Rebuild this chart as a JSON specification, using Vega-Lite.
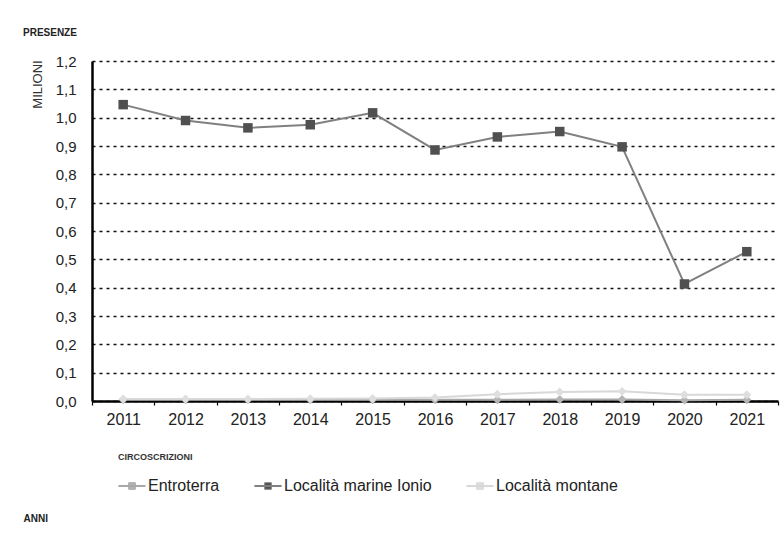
{
  "$schema": "https://vega.github.io/schema/vega-lite/v6.json",
  "autosize": "none",
  "width": 686,
  "height": 340,
  "padding": {"left": 92, "top": 61, "right": 6, "bottom": 137},
  "background": "white",
  "title": {
    "text": "PRESENZE",
    "anchor": "start",
    "frame": "bounds",
    "fontSize": 10,
    "fontWeight": "bold",
    "font": "Liberation Sans",
    "color": "#222",
    "offset": 16
  },
  "config": {
    "view": {"stroke": null},
    "font": "Liberation Sans"
  },
  "data": {
    "values": [
      {"anno": "2011", "circ": "Entroterra", "presenze": 0.004},
      {"anno": "2012", "circ": "Entroterra", "presenze": 0.004},
      {"anno": "2013", "circ": "Entroterra", "presenze": 0.004},
      {"anno": "2014", "circ": "Entroterra", "presenze": 0.004},
      {"anno": "2015", "circ": "Entroterra", "presenze": 0.004},
      {"anno": "2016", "circ": "Entroterra", "presenze": 0.004},
      {"anno": "2017", "circ": "Entroterra", "presenze": 0.004},
      {"anno": "2018", "circ": "Entroterra", "presenze": 0.005},
      {"anno": "2019", "circ": "Entroterra", "presenze": 0.005},
      {"anno": "2020", "circ": "Entroterra", "presenze": 0.003},
      {"anno": "2021", "circ": "Entroterra", "presenze": 0.004},
      {"anno": "2011", "circ": "Località marine Ionio", "presenze": 1.046},
      {"anno": "2012", "circ": "Località marine Ionio", "presenze": 0.99},
      {"anno": "2013", "circ": "Località marine Ionio", "presenze": 0.964},
      {"anno": "2014", "circ": "Località marine Ionio", "presenze": 0.975},
      {"anno": "2015", "circ": "Località marine Ionio", "presenze": 1.017},
      {"anno": "2016", "circ": "Località marine Ionio", "presenze": 0.886},
      {"anno": "2017", "circ": "Località marine Ionio", "presenze": 0.932},
      {"anno": "2018", "circ": "Località marine Ionio", "presenze": 0.951},
      {"anno": "2019", "circ": "Località marine Ionio", "presenze": 0.897},
      {"anno": "2020", "circ": "Località marine Ionio", "presenze": 0.413},
      {"anno": "2021", "circ": "Località marine Ionio", "presenze": 0.527},
      {"anno": "2011", "circ": "Località montane", "presenze": 0.007},
      {"anno": "2012", "circ": "Località montane", "presenze": 0.007},
      {"anno": "2013", "circ": "Località montane", "presenze": 0.007},
      {"anno": "2014", "circ": "Località montane", "presenze": 0.008},
      {"anno": "2015", "circ": "Località montane", "presenze": 0.009},
      {"anno": "2016", "circ": "Località montane", "presenze": 0.012},
      {"anno": "2017", "circ": "Località montane", "presenze": 0.024},
      {"anno": "2018", "circ": "Località montane", "presenze": 0.032},
      {"anno": "2019", "circ": "Località montane", "presenze": 0.034},
      {"anno": "2020", "circ": "Località montane", "presenze": 0.022},
      {"anno": "2021", "circ": "Località montane", "presenze": 0.022}
    ]
  },
  "encoding": {
    "x": {
      "field": "anno",
      "type": "ordinal",
      "scale": {"type": "band", "paddingInner": 0, "paddingOuter": 0},
      "axis": {
        "title": "ANNI",
        "titleX": -69,
        "titleY": 112,
        "titleAlign": "left",
        "titleBaseline": "top",
        "titleFontSize": 10,
        "titleFontWeight": "bold",
        "titleColor": "#222",
        "labelAngle": 0,
        "labelFontSize": 16,
        "labelColor": "#222",
        "labelPadding": 6,
        "tickBand": "extent",
        "tickSize": 4,
        "tickColor": "#000",
        "tickWidth": 1.2,
        "domainColor": "#000",
        "domainWidth": 2.5,
        "grid": false
      }
    },
    "y": {
      "field": "presenze",
      "type": "quantitative",
      "scale": {"domain": [0, 1.2], "nice": false},
      "axis": {
        "title": "MILIONI",
        "titleAngle": 270,
        "titleX": -55,
        "titleY": 23,
        "titleAlign": "center",
        "titleBaseline": "middle",
        "titleFontSize": 13,
        "titleFontWeight": "normal",
        "titleColor": "#333",
        "values": [0, 0.1, 0.2, 0.3, 0.4, 0.5, 0.6, 0.7, 0.8, 0.9, 1.0, 1.1, 1.2],
        "labelExpr": "replace(format(datum.value, '.1f'), '.', ',')",
        "labelFontSize": 15,
        "labelColor": "#222",
        "labelPadding": 16,
        "ticks": false,
        "domainColor": "#000",
        "domainWidth": 2.5,
        "grid": true,
        "gridColor": "#111",
        "gridDash": [3, 4],
        "gridWidth": 1.3
      }
    }
  },
  "layer": [
    {
      "mark": {"type": "line", "strokeWidth": 2},
      "encoding": {
        "stroke": {
          "field": "circ",
          "type": "nominal",
          "title": "CIRCOSCRIZIONI",
          "scale": {
            "domain": ["Entroterra", "Località marine Ionio", "Località montane"],
            "range": ["#a8a8a8", "#808080", "#d8d8d8"]
          },
          "legend": {
            "orient": "none",
            "legendX": 26,
            "legendY": 392,
            "direction": "horizontal",
            "titleFontSize": 9,
            "titleFontWeight": "bold",
            "titleColor": "#333",
            "titlePadding": 10,
            "labelFontSize": 16,
            "labelColor": "#222",
            "labelOffset": 2,
            "columnPadding": 32,
            "symbolType": "M-1,-0.04H1V0.04H-1Z M-0.25,-0.25H0.25V0.25H-0.25Z",
            "symbolSize": 700,
            "symbolStrokeWidth": 1
          }
        }
      }
    },
    {
      "transform": [{"filter": "datum.circ !== 'Località marine Ionio'"}],
      "mark": {"type": "point", "filled": true, "opacity": 1, "size": 80, "strokeWidth": 0, "shape": "diamond"},
      "encoding": {
        "fill": {
          "field": "circ",
          "type": "nominal",
          "title": "CIRCOSCRIZIONI",
          "scale": {
            "domain": ["Entroterra", "Località marine Ionio", "Località montane"],
            "range": ["#b4b4b4", "#505050", "#dedede"]
          },
          "legend": {
            "orient": "none",
            "legendX": 26,
            "legendY": 392,
            "direction": "horizontal",
            "titleFontSize": 9,
            "titleFontWeight": "bold",
            "titleColor": "#333",
            "titlePadding": 10,
            "labelFontSize": 16,
            "labelColor": "#222",
            "labelOffset": 2,
            "columnPadding": 32,
            "symbolType": "M-1,-0.04H1V0.04H-1Z M-0.25,-0.25H0.25V0.25H-0.25Z",
            "symbolSize": 700,
            "symbolStrokeWidth": 1
          }
        }
      }
    },
    {
      "transform": [{"filter": "datum.circ === 'Località marine Ionio'"}],
      "mark": {"type": "point", "filled": true, "opacity": 1, "size": 90, "strokeWidth": 0, "shape": "square"},
      "encoding": {
        "fill": {
          "field": "circ",
          "type": "nominal"
        }
      }
    }
  ]
}
